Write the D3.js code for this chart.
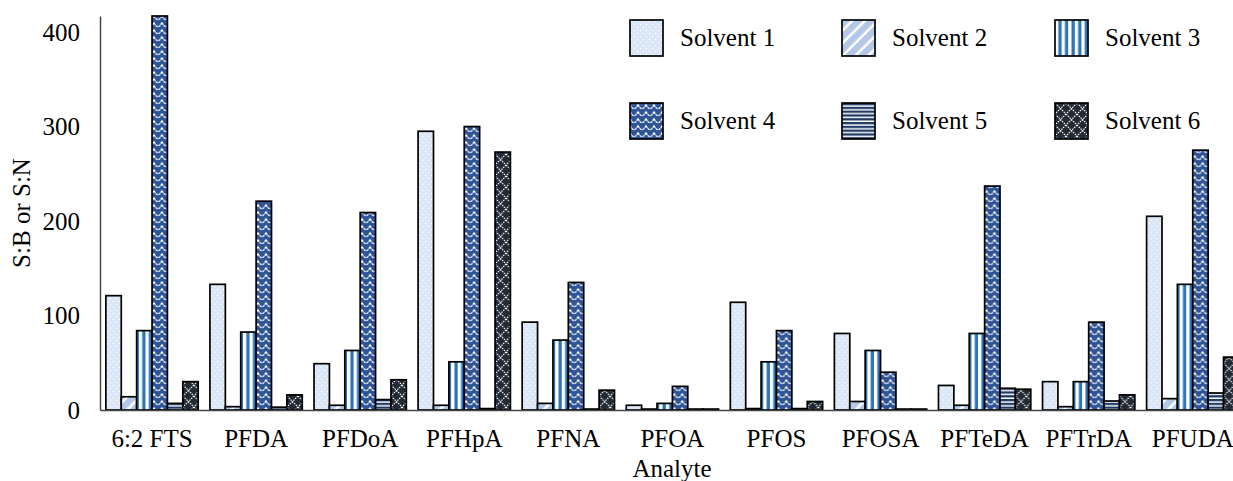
<!DOCTYPE html>
<html>
<head>
<meta charset="utf-8">
<script src="https://cdn.jsdelivr.net/npm/d3@7"></script>
<style>
  html, body { margin: 0; padding: 0; background: #fff; }
  svg { display: block; }
</style>
</head>
<body>
<svg id="chart" width="1233" height="481"></svg>
<script>
// Analytes on the x axis
const analytes = ["6:2 FTS", "PFDA", "PFDoA", "PFHpA", "PFNA", "PFOA", "PFOS", "PFOSA", "PFTeDA", "PFTrDA", "PFUDA"];

// S:B or S:N per solvent, one value per analyte
const solvent1 = [121, 133, 49, 295, 93, 5, 114, 81, 26, 30, 205];
const solvent2 = [14, 3.5, 5, 5, 7, 1, 1.5, 9, 5, 3.5, 12];
const solvent3 = [84, 82.5, 63, 51, 74, 7, 51, 63, 81, 30, 133];
const solvent4 = [417, 221, 209, 300, 135, 25, 84, 40, 237, 93, 275];
const solvent5 = [7, 3, 11, 1.5, 1, 1, 1.5, 1, 23, 9.5, 18];
const solvent6 = [30, 16, 32, 273, 21, 1, 9, 1, 22, 16, 56];

const seriesNames = ["Solvent 1", "Solvent 2", "Solvent 3", "Solvent 4", "Solvent 5", "Solvent 6"];
const seriesValues = [solvent1, solvent2, solvent3, solvent4, solvent5, solvent6];

const yTicks = [0, 100, 200, 300, 400];

const FONT = '"Liberation Serif", "Times New Roman", Tinos, serif';
const FONT_SIZE = "25px";

const svg = d3.select("#chart");
const defs = svg.append("defs");

// ---- fill patterns, one per solvent ----
// Solvent 1: pale blue with white dots
const p1 = defs.append("pattern").attr("id", "pat1").attr("patternUnits", "userSpaceOnUse")
  .attr("width", 6).attr("height", 6);
p1.append("rect").attr("width", 6).attr("height", 6).attr("fill", "#dbe7f5");
p1.append("circle").attr("cx", 1.5).attr("cy", 1.5).attr("r", 0.7).attr("fill", "#fff");
p1.append("circle").attr("cx", 4.5).attr("cy", 4.5).attr("r", 0.7).attr("fill", "#fff");

// Solvent 2: wide light-blue diagonal stripes
const p2 = defs.append("pattern").attr("id", "pat2").attr("patternUnits", "userSpaceOnUse")
  .attr("width", 9).attr("height", 9).attr("patternTransform", "rotate(45)");
p2.append("rect").attr("width", 9).attr("height", 9).attr("fill", "#fff");
p2.append("rect").attr("width", 6.5).attr("height", 9).attr("fill", "#b4c7e7");

// Solvent 3: vertical blue / white stripes
const p3 = defs.append("pattern").attr("id", "pat3").attr("patternUnits", "userSpaceOnUse")
  .attr("width", 6.6).attr("height", 6);
p3.append("rect").attr("width", 6.6).attr("height", 6).attr("fill", "#fff");
p3.append("rect").attr("x", 3.3).attr("width", 3.3).attr("height", 6).attr("fill", "#2e75b6");

// Solvent 4: dark blue with white waves
const p4 = defs.append("pattern").attr("id", "pat4").attr("patternUnits", "userSpaceOnUse")
  .attr("width", 8).attr("height", 7);
p4.append("rect").attr("width", 8).attr("height", 7).attr("fill", "#2f5597");
p4.append("path").attr("d", "M0,1.5 Q2,6 4,5.5 Q6,6 8,1.5")
  .attr("fill", "none").attr("stroke", "#fff").attr("stroke-width", 1.4)
  .attr("stroke-dasharray", "2.4 0.8");

// Solvent 5: horizontal navy / white stripes
const p5 = defs.append("pattern").attr("id", "pat5").attr("patternUnits", "userSpaceOnUse")
  .attr("width", 6).attr("height", 3.8);
p5.append("rect").attr("width", 6).attr("height", 3.8).attr("fill", "#fff");
p5.append("rect").attr("width", 6).attr("height", 2.3).attr("fill", "#1f3864");

// Solvent 6: near-black with a white dotted diamond lattice
const p6 = defs.append("pattern").attr("id", "pat6").attr("patternUnits", "userSpaceOnUse")
  .attr("width", 11).attr("height", 11);
p6.append("rect").attr("width", 11).attr("height", 11).attr("fill", "#222a35");
p6.append("path").attr("d", "M0,0 L11,11 M11,0 L0,11")
  .attr("stroke", "#fff").attr("stroke-width", 1.1).attr("stroke-dasharray", "1.6 0.9");

const fills = ["url(#pat1)", "url(#pat2)", "url(#pat3)", "url(#pat4)", "url(#pat5)", "url(#pat6)"];

// ---- scales ----
const x0 = d3.scaleBand().domain(analytes).range([100, 1244.8]).paddingInner(0.113).paddingOuter(0.0565);
const x1 = d3.scaleBand().domain(seriesNames).range([0, x0.bandwidth()]);
const y = d3.scaleLinear().domain([0, 417]).range([410, 16]);

// ---- bars ----
const groups = svg.append("g").selectAll("g")
  .data(analytes)
  .join("g")
  .attr("transform", d => `translate(${x0(d)},0)`);

groups.selectAll("rect")
  .data((d, i) => seriesNames.map((s, k) => ({ s, k, v: seriesValues[k][i] })))
  .join("rect")
  .attr("x", d => x1(d.s))
  .attr("width", x1.bandwidth())
  .attr("y", d => y(d.v))
  .attr("height", d => y(0) - y(d.v))
  .attr("fill", d => fills[d.k])
  .attr("stroke", "#000")
  .attr("stroke-width", 1.7);

// ---- axes ----
const yAxis = d3.axisLeft(y).tickValues(yTicks).tickSize(0).tickPadding(20);
const gy = svg.append("g").attr("transform", "translate(100,0)").call(yAxis);
gy.select(".domain").attr("stroke", "#444").attr("stroke-width", 1.5);
gy.selectAll("text").style("font-family", FONT).style("font-size", FONT_SIZE).attr("fill", "#000");

const xAxis = d3.axisBottom(x0).tickSize(0).tickPadding(19);
const gx = svg.append("g").attr("transform", "translate(0,410)").call(xAxis);
gx.select(".domain").attr("stroke", "#444").attr("stroke-width", 1.5);
gx.selectAll("text").style("font-family", FONT).style("font-size", FONT_SIZE).attr("fill", "#000");

// ---- axis titles ----
svg.append("text")
  .attr("transform", "translate(30,213) rotate(-90)")
  .attr("text-anchor", "middle")
  .style("font-family", FONT).style("font-size", FONT_SIZE)
  .text("S:B or S:N");

svg.append("text")
  .attr("x", 672).attr("y", 477)
  .attr("text-anchor", "middle")
  .style("font-family", FONT).style("font-size", FONT_SIZE)
  .text("Analyte");

// ---- legend ----
const legendCols = [630, 842, 1055];
const legendRows = [20, 103];
const legend = svg.append("g").selectAll("g")
  .data(seriesNames)
  .join("g")
  .attr("transform", (d, i) => `translate(${legendCols[i % 3]},${legendRows[Math.floor(i / 3)]})`);
legend.append("rect")
  .attr("width", 33).attr("height", 36)
  .attr("fill", (d, i) => fills[i])
  .attr("stroke", "#000").attr("stroke-width", 1.7);
legend.append("text")
  .attr("x", 50).attr("y", 26)
  .style("font-family", FONT).style("font-size", FONT_SIZE)
  .text(d => d);
</script>
</body>
</html>
